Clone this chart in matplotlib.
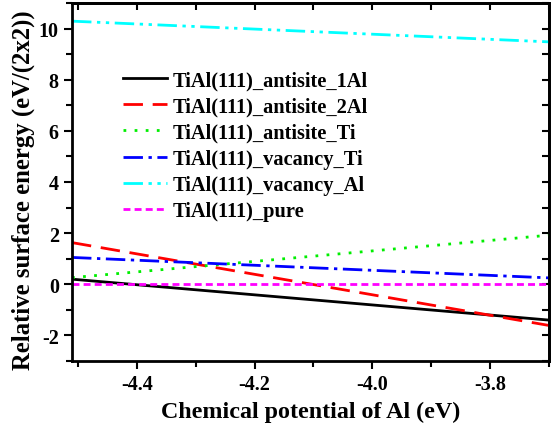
import matplotlib
matplotlib.use("Agg")
import matplotlib.pyplot as plt
from matplotlib.ticker import MultipleLocator, FormatStrFormatter

mu_al = [-4.51, -3.70]
labels = ["TiAl(111)_antisite_1Al", "TiAl(111)_antisite_2Al", "TiAl(111)_antisite_Ti",
          "TiAl(111)_vacancy_Ti", "TiAl(111)_vacancy_Al", "TiAl(111)_pure"]
antisite_1Al = [0.20, -1.40]
antisite_2Al = [1.63, -1.61]
antisite_Ti = [0.26, 1.92]
vacancy_Ti = [1.05, 0.25]
vacancy_Al = [10.29, 9.48]
pure = [0.0, 0.0]

plt.rcParams['font.family'] = ['Liberation Serif', 'DejaVu Serif']
plt.rcParams['font.weight'] = 'bold'
plt.rcParams['axes.unicode_minus'] = False

fig = plt.figure(figsize=(5.51, 4.31), dpi=100)
ax = fig.add_axes([72/551, 1-362/431, (549-72)/551, (362-4)/431])

series = [antisite_1Al, antisite_2Al, antisite_Ti, vacancy_Ti, vacancy_Al, pure]
colors = ['black', 'red', '#00ee00', 'blue', 'cyan', 'magenta']
styles = ['-', (0, (7, 3.5)), (0, (1, 3)), (0, (7, 2, 1.2, 2)), (0, (7, 2, 1.2, 2, 1.2, 2)), (0, (2.5, 1.5))]
for y, lab, c, ls in zip(series, labels, colors, styles):
    ax.plot(mu_al, y, color=c, linestyle=ls, lw=2, label=lab)

ax.set_xlim(-4.51, -3.70)
ax.set_ylim(-3, 11)
ax.xaxis.set_major_locator(MultipleLocator(0.2))
ax.xaxis.set_minor_locator(MultipleLocator(0.1))
ax.yaxis.set_major_locator(MultipleLocator(2))
ax.yaxis.set_minor_locator(MultipleLocator(1))
ax.xaxis.set_major_formatter(FormatStrFormatter('%.1f'))
ax.tick_params(which='both', direction='out', width=1.5, labelsize=14.5)
ax.tick_params(which='major', length=6)
ax.tick_params(which='minor', length=4)
for s in ax.spines.values():
    s.set_linewidth(2)

top = ax.secondary_xaxis('top')
top.xaxis.set_major_locator(MultipleLocator(0.2))
top.xaxis.set_minor_locator(MultipleLocator(0.1))
top.tick_params(which='both', direction='in', width=1.5, labeltop=False, length=5)
top.spines['top'].set_linewidth(2)
right = ax.secondary_yaxis('right')
right.yaxis.set_major_locator(MultipleLocator(2))
right.yaxis.set_minor_locator(MultipleLocator(1))
right.tick_params(which='both', direction='in', width=1.5, labelright=False, length=5)
right.spines['right'].set_linewidth(2)

ax.set_xlabel("Chemical potential of Al (eV)", fontsize=17.3, fontweight='bold', labelpad=5)
ax.set_ylabel("Relative surface energy (eV/(2x2))", fontsize=17.8, fontweight='bold')
ax.yaxis.set_label_coords(-0.078, 0.48)

leg = ax.legend(loc='upper left', bbox_to_anchor=(0.107, 0.812), frameon=False,
                handlelength=2.15, handletextpad=0.3, labelspacing=0.30,
                borderaxespad=0, borderpad=0,
                prop={'weight': 'bold', 'size': 14.7})

fig.savefig("out.png", dpi=100)
